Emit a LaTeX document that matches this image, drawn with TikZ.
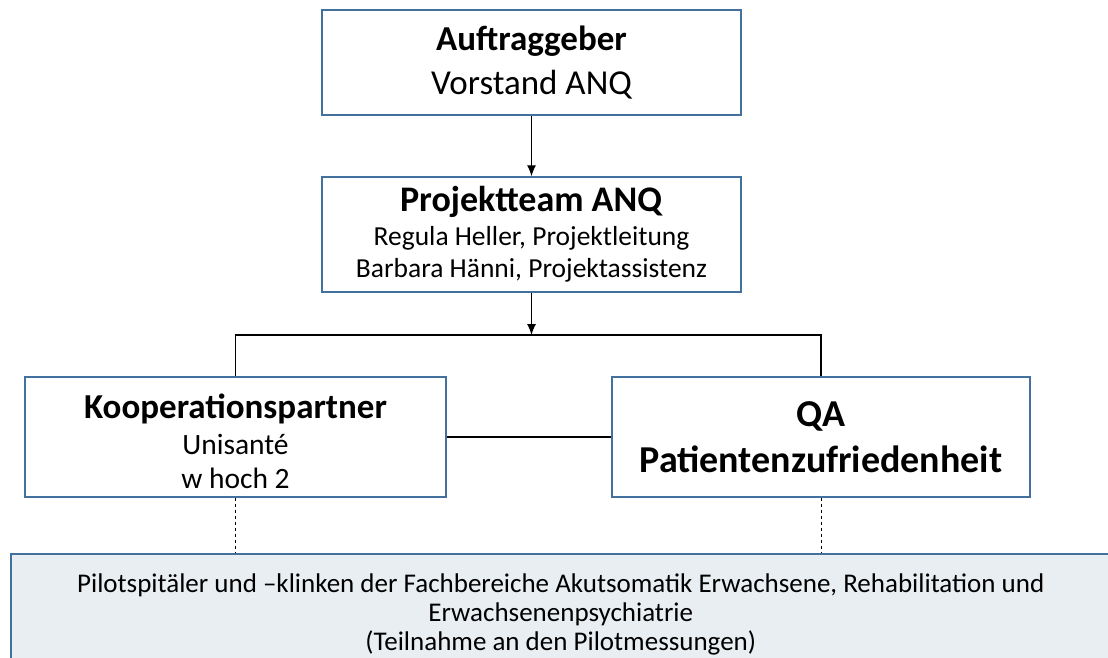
\documentclass[tikz,border=0pt]{standalone}
\usepackage{fontspec}
\setmainfont{Carlito}
\usepackage{tikz}
\usetikzlibrary{arrows.meta}

\definecolor{boxblue}{RGB}{65,113,156}
\definecolor{boxfill}{RGB}{233,238,242}

\begin{document}
\begin{tikzpicture}[x=1pt,y=-1pt,
		box/.style={draw=boxblue,line width=1.5pt,fill=white,align=center,inner sep=0pt},
		link/.style={line width=1.1pt},
		tip/.style={-{Latex[length=11pt,width=9pt]}}]
		\clip (0,0) rectangle (1108,658);
%		\draw[help lines] (0,0) grid (1108,658);
		\path (531.5,62.5) coordinate (auftrag_c);
		\path (531.5,234.5) coordinate (projekt_c);
		\path (531.5,335) coordinate (split);
		\path (235.5,437) coordinate (koop_c);
		\path (821,437) coordinate (qa_c);
		\path (10,553) coordinate (pilot_nw);

		\node[box,minimum width=419pt,minimum height=105pt,
			font=\fontsize{35}{44}\selectfont] (auftrag) at (auftrag_c)
			{\textbf{Auftraggeber}\\Vorstand ANQ};
		\node[box,minimum width=419pt,minimum height=115pt,
			font=\fontsize{27.5}{32}\selectfont] (projekt) at (projekt_c)
			{{\fontsize{36}{36}\selectfont\textbf{Projektteam ANQ}}\\[2pt]
			Regula Heller, Projektleitung\\Barbara Hänni, Projektassistenz};
		\node[box,minimum width=421pt,minimum height=120pt,
			font=\fontsize{29.5}{34}\selectfont] (koop) at (koop_c)
			{\rule{0pt}{34pt}{\fontsize{35}{35}\selectfont\textbf{Kooperationspartner}}\\[2pt]
			Unisanté\\w hoch 2};
		\node[box,minimum width=418pt,minimum height=120pt,
			font=\fontsize{38}{46}\selectfont] (qa) at (qa_c)
			{\textbf{QA}\\\textbf{Patientenzufriedenheit}};
		\node[box,fill=boxfill,anchor=north west,minimum width=1100pt,minimum height=122pt,
			font=\fontsize{27}{29}\selectfont] (pilot) at (pilot_nw)
			{Pilotspitäler und –klinken der Fachbereiche Akutsomatik Erwachsene, Rehabilitation und\\
			Erwachsenenpsychiatrie\\(Teilnahme an den Pilotmessungen)};

		\draw[link,tip] (auftrag) -- (projekt);
		\draw[link,tip] (projekt) -- (split);
		\draw[link] (koop.north) |- (split) -| (qa.north);
		\draw[link] (koop) -- (qa);
		\draw[dash pattern=on 3pt off 3pt] (koop.south) -- (koop.south |- pilot.north);
		\draw[dash pattern=on 3pt off 3pt] (qa.south) -- (qa.south |- pilot.north);
	\end{tikzpicture}
\end{document}
